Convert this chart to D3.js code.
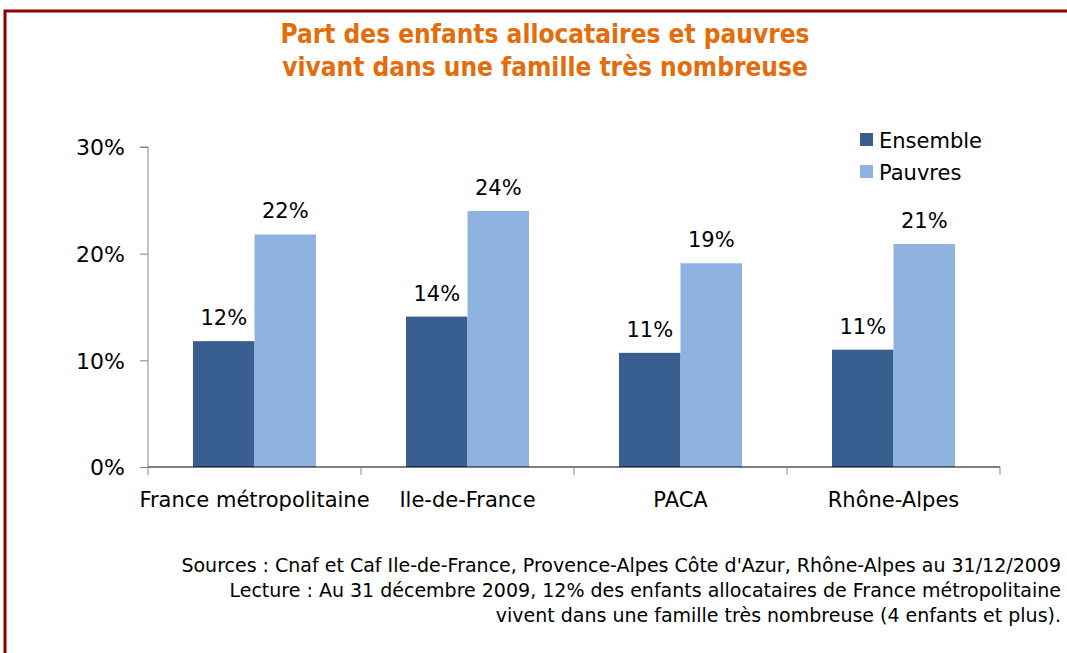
<!DOCTYPE html>
<html>
<head>
<meta charset="UTF-8">
<title>Part des enfants allocataires et pauvres</title>
<script src="https://d3js.org/d3.v7.min.js"></script>
<style>
  html, body { margin: 0; padding: 0; background: white; }
  svg text { font-family: "DejaVu Sans", "Liberation Sans", sans-serif; fill: #000; }
  svg text.title { font-family: "DejaVu Sans Condensed", "DejaVu Sans", sans-serif; font-weight: bold; fill: #E46C0A; font-size: 26px; }
</style>
</head>
<body>
<svg id="chart" width="1067" height="653"></svg>
<script>
const regions = ['France métropolitaine', 'Ile-de-France', 'PACA', 'Rhône-Alpes'];
const seriesNames = ['Ensemble', 'Pauvres'];
const ensemble = [11.8, 14.1, 10.7, 11.0];
const pauvres = [21.8, 24.0, 19.1, 20.9];
const valueLabels = [['12%', '22%'], ['14%', '24%'], ['11%', '19%'], ['11%', '21%']];
const yTicks = [0, 10, 20, 30];
const titleLines = ['Part des enfants allocataires et pauvres', 'vivant dans une famille très nombreuse'];
const notes = [
  "Sources : Cnaf et Caf Ile-de-France, Provence-Alpes Côte d'Azur, Rhône-Alpes au 31/12/2009",
  'Lecture : Au 31 décembre 2009, 12% des enfants allocataires de France métropolitaine',
  'vivent dans une famille très nombreuse (4 enfants et plus).'
];
const colors = ['#385F90', '#8EB3E1'];

const svg = d3.select('#chart');

// frame
svg.append('path')
  .attr('d', 'M5,653 L5,11 L1067,11')
  .attr('fill', 'none')
  .attr('stroke', '#8E0000')
  .attr('stroke-width', 3);

// title
svg.selectAll('.title')
  .data(titleLines)
  .enter()
  .append('text')
  .attr('class', 'title')
  .attr('x', 545)
  .attr('y', (d, i) => 43 + i * 33)
  .attr('text-anchor', 'middle')
  .text(d => d);

const x = d3.scaleBand().domain(regions).range([148, 1000]);
const inner = d3.scaleBand().domain(seriesNames).range([45, x.bandwidth() - 45]);
const y = d3.scaleLinear().domain([0, 30]).range([467, 147]);

const rows = regions.map((r, i) => ({ region: r, values: [ensemble[i], pauvres[i]], labels: valueLabels[i] }));

const groups = svg.selectAll('.group')
  .data(rows)
  .enter()
  .append('g')
  .attr('class', 'group')
  .attr('transform', d => `translate(${x(d.region)},0)`);

groups.selectAll('rect')
  .data(d => d.values.map((v, j) => ({ v, j, label: d.labels[j] })))
  .enter()
  .append('rect')
  .attr('x', d => inner(seriesNames[d.j]))
  .attr('y', d => y(d.v))
  .attr('width', inner.bandwidth())
  .attr('height', d => y(0) - y(d.v))
  .attr('fill', d => colors[d.j]);

groups.selectAll('.val')
  .data(d => d.values.map((v, j) => ({ v, j, label: d.labels[j] })))
  .enter()
  .append('text')
  .attr('class', 'val')
  .attr('x', d => inner(seriesNames[d.j]) + inner.bandwidth() / 2)
  .attr('y', d => y(d.v) - 16)
  .attr('text-anchor', 'middle')
  .style('font-size', '21px')
  .text(d => d.label);

// y axis
const yAxis = svg.append('g')
  .attr('transform', 'translate(148,0)')
  .call(d3.axisLeft(y).tickValues(yTicks).tickSize(8).tickPadding(15).tickFormat(d => d + '%'));
yAxis.select('.domain').attr('stroke', '#868686').attr('d', 'M-8,147 H0 V467');
yAxis.selectAll('line').attr('stroke', '#868686');
yAxis.selectAll('text').style('font-size', '22px').attr('dy', '0.35em');

// x axis
const xAxis = svg.append('g')
  .attr('transform', 'translate(0,467)');
xAxis.append('line')
  .attr('x1', 148).attr('x2', 1000)
  .attr('stroke', '#000');
xAxis.selectAll('.tick')
  .data(regions.concat(['end']))
  .enter()
  .append('line')
  .attr('x1', (d, i) => i < regions.length ? x(d) : x.range()[1])
  .attr('x2', (d, i) => i < regions.length ? x(d) : x.range()[1])
  .attr('y1', 0).attr('y2', 8)
  .attr('stroke', '#868686');
xAxis.selectAll('.cat')
  .data(regions)
  .enter()
  .append('text')
  .attr('x', d => x(d) + x.bandwidth() / 2)
  .attr('y', 40)
  .attr('text-anchor', 'middle')
  .style('font-size', '21px')
  .text(d => d);

// legend
const legend = svg.append('g').attr('transform', 'translate(860,133)');
seriesNames.forEach((s, i) => {
  legend.append('rect')
    .attr('x', 0).attr('y', i * 32)
    .attr('width', 13).attr('height', 13)
    .attr('fill', colors[i]);
  legend.append('text')
    .attr('x', 19).attr('y', i * 32 + 15)
    .style('font-size', '21px')
    .text(s);
});

// notes
svg.selectAll('.note')
  .data(notes)
  .enter()
  .append('text')
  .attr('class', 'note')
  .attr('x', 1061)
  .attr('y', (d, i) => 572 + i * 25)
  .attr('text-anchor', 'end')
  .style('font-size', '19px')
  .text(d => d);
</script>
</body>
</html>
